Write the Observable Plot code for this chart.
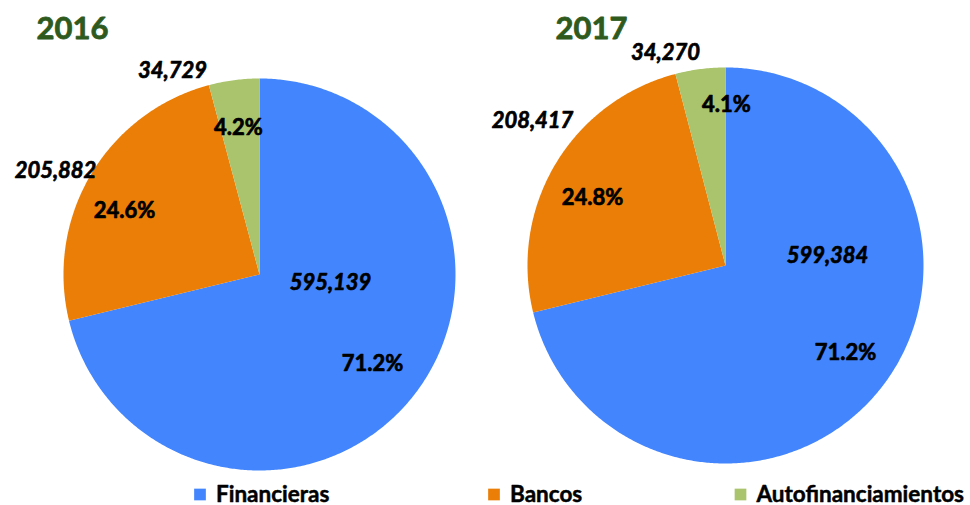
<!DOCTYPE html>
<html><head><meta charset="utf-8">
<script src="https://cdn.jsdelivr.net/npm/d3@7"></script>
<script src="https://cdn.jsdelivr.net/npm/@observablehq/plot@0.6"></script>
<style>body{margin:0;background:#fff;font-family:Lato,sans-serif}</style>
</head><body><div id="chart"></div>
<script>
// ---- data ----
const categories = ["Financieras", "Bancos", "Autofinanciamientos"];
const years = ["2016", "2017"];
const values2016 = [595139, 205882, 34729];
const values2017 = [599384, 208417, 34270];
const colors = ["#4385fc", "#eb7e06", "#a9c46c"];

// ---- layout (not data) ----
const W = 970, H = 505;
const pieLayout = {
  "2016": {cx: 259, cy: 274, r: 196, title: [72, 29],
    valueOff: [[71, 8], [-204, -104], [-87, -204]],
    pctOff: [[113, 89], [-135, -64], [-21, -147]]},
  "2017": {cx: 725, cy: 265, r: 198, title: [591, 29],
    valueOff: [[102, -10], [-193, -145], [-60, -213]],
    pctOff: [[120, 87], [-133, -68], [1, -161]]}
};
const legendX = [199.5, 493.5, 740], legendY = 494, legendBaseline = 501;

const seriesByYear = {"2016": values2016, "2017": values2017};
const pie = d3.pie().sort(null).value(d => d.value);

const slicePts = [], valueLabels = [], pctLabels = [], titles = [];
for (const yr of years) {
  const L = pieLayout[yr];
  const vals = seriesByYear[yr];
  const total = d3.sum(vals);
  const arcs = pie(categories.map((c, i) => ({cat: c, value: vals[i]})));
  arcs.forEach((a, i) => {
    const id = yr + "-" + a.data.cat;
    slicePts.push({id, cat: a.data.cat, x: L.cx, y: L.cy});
    const n = Math.max(2, Math.ceil((a.endAngle - a.startAngle) / (Math.PI / 360)));
    for (let k = 0; k <= n; k++) {
      const t = a.startAngle + (a.endAngle - a.startAngle) * k / n;
      slicePts.push({id, cat: a.data.cat, x: L.cx + L.r * Math.sin(t), y: L.cy - L.r * Math.cos(t)});
    }
    slicePts.push({id, cat: a.data.cat, x: L.cx, y: L.cy});
    valueLabels.push({x: L.cx + L.valueOff[i][0], y: L.cy + L.valueOff[i][1], text: d3.format(",")(a.data.value)});
    pctLabels.push({x: L.cx + L.pctOff[i][0], y: L.cy + L.pctOff[i][1], text: d3.format(".1%")(a.data.value / total)});
  });
  titles.push({x: L.title[0], y: L.title[1], text: yr});
}
const legend = categories.map((c, i) => ({cat: c, x: legendX[i], y: legendY}));

const heavy = {fontWeight: "bold", stroke: "#000", strokeWidth: 0.7, fill: "#000"};

const chart = Plot.plot({
  width: W, height: H, margin: 0,
  x: {domain: [0, W], range: [0, W], axis: null},
  y: {domain: [0, H], range: [0, H], axis: null},
  color: {domain: categories, range: colors},
  style: {fontFamily: "Lato, sans-serif", background: "#fff"},
  marks: [
    Plot.line(slicePts, {x: "x", y: "y", z: "id", fill: "cat", stroke: "none", curve: "linear"}),
    Plot.text(titles, {x: "x", y: "y", text: "text", fontSize: 31, fontWeight: "bold", fill: "#2e5a1e", stroke: "#2e5a1e", strokeWidth: 0.8, textAnchor: "middle"}),
    Plot.text(valueLabels, {x: "x", y: "y", text: "text", fontSize: 22, fontStyle: "italic", textAnchor: "middle", ...heavy}),
    Plot.text(pctLabels, {x: "x", y: "y", text: "text", fontSize: 22, textAnchor: "middle", ...heavy}),
    Plot.dot(legend, {x: "x", y: "y", fill: "cat", symbol: "square", r: 6.6, stroke: "none"}),
    Plot.text(legend, {x: d => d.x + 16, y: () => legendBaseline, text: "cat", fontSize: 22.5, textAnchor: "start", lineAnchor: "bottom", ...heavy, strokeWidth: 0.5})
  ]
});
document.getElementById("chart").appendChild(chart);
</script>
</body></html>
